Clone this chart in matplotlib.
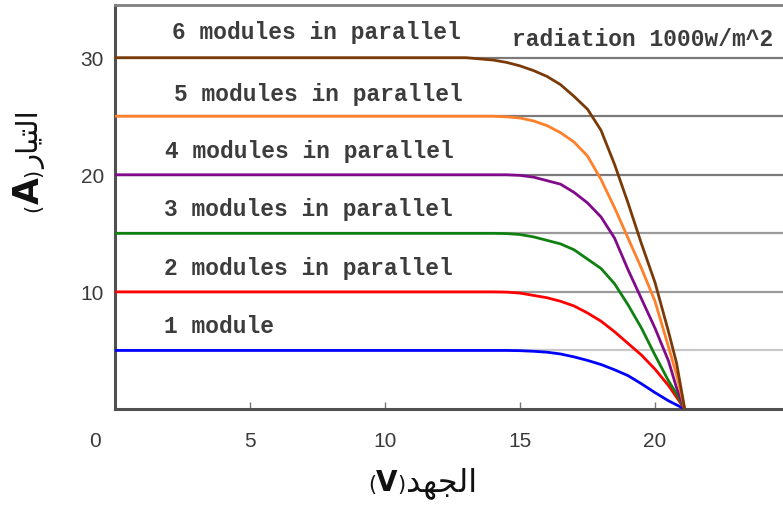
import matplotlib
matplotlib.use("Agg")
import matplotlib.pyplot as plt
from matplotlib.transforms import IdentityTransform, ScaledTranslation

# ---------- 1. I-V data (1000 W/m^2), one curve per number of parallel modules ----------
voltage = [0, 13, 14, 14.5, 15, 15.5, 16, 16.5, 17, 17.5, 18, 18.5, 19, 19.5, 20, 20.5, 20.8, 21.1]
i_1 = [5.0, 5.0, 5.0, 5.0, 4.98, 4.93, 4.85, 4.7, 4.45, 4.15, 3.8, 3.35, 2.85, 2.15, 1.4, 0.7, 0.35, 0]
i_2 = [10.0, 10.0, 10.0, 9.98, 9.9, 9.7, 9.5, 9.2, 8.8, 8.2, 7.5, 6.6, 5.6, 4.6, 3.4, 2.0, 1.0, 0]
i_3 = [15.0, 15.0, 15.0, 14.98, 14.9, 14.7, 14.4, 14.1, 13.6, 12.8, 12.0, 10.7, 8.9, 6.9, 4.6, 2.4, 1.3, 0]
i_4 = [20.0, 20.0, 20.0, 20.0, 19.95, 19.8, 19.5, 19.2, 18.5, 17.6, 16.4, 14.6, 11.9, 9.4, 6.9, 4.1, 1.8, 0]
i_5 = [25.0, 25.0, 25.0, 24.95, 24.85, 24.6, 24.2, 23.6, 22.8, 21.6, 19.6, 17.2, 14.6, 12.0, 9.2, 5.3, 2.9, 0]
i_6 = [30.0, 30.0, 29.8, 29.6, 29.3, 28.9, 28.4, 27.7, 26.7, 25.6, 23.8, 20.9, 17.6, 14.1, 10.8, 6.6, 3.9, 0]
currents = [i_1, i_2, i_3, i_4, i_5, i_6]
curve_labels = ["1 module", "2 modules in parallel", "3 modules in parallel",
                "4 modules in parallel", "5 modules in parallel", "6 modules in parallel"]
x_ticks = [0, 5, 10, 15, 20]
y_ticks = [10, 20, 30]
radiation_note = "radiation 1000w/m^2"

colors = ["#0000ff", "#ff0000", "#108010", "#800a8a", "#ff7f2a", "#7a3a08"]
# label anchors (volts, amps) - left edge / vertical centre of each text
label_pos = [(1.8, 7.1), (1.8, 12.1), (1.8, 17.1), (1.85, 22.1), (2.2, 26.9), (2.1, 32.2)]

# ---------- 2. figure / axes ----------
W, H = 783, 506
fig = plt.figure(figsize=(W / 100, H / 100), dpi=100)
ax = fig.add_axes([115 / W, 1 - 410 / H, 668 / W, 404 / H])
ax.set_xlim(0, 24.74)
ax.set_ylim(0, 34.5)

# horizontal grid every 5 A
for lvl in [5, 10, 15, 20, 25, 30]:
    c = "#c8c8c8" if lvl == 5 else ("#9a9a9a" if lvl in (10, 15) else "#7a7a7a")
    ax.axhline(lvl, color=c, lw=1.6, zorder=1)

for cur, col in zip(currents, colors):
    ax.plot(voltage, cur, color=col, lw=2.0, zorder=3, solid_capstyle="butt",
            solid_joinstyle="round")

mono = dict(family="Liberation Mono", fontweight="bold", fontsize=16.5, color="#3c3c3c", zorder=5)
for txt, (vx, vy) in zip(curve_labels, label_pos):
    ax.text(vx, vy, txt, ha="left", va="center", **mono)
ax.text(14.7, 31.6, radiation_note, ha="left", va="center", **mono)

# spines
for s in ["left", "bottom"]:
    ax.spines[s].set_color("#505050")
    ax.spines[s].set_linewidth(2.2)
ax.spines["top"].set_color("#808080")
ax.spines["top"].set_linewidth(2.0)
ax.spines["right"].set_visible(False)

ax.set_xticks(x_ticks)
ax.set_xticklabels([str(t) for t in x_ticks])
ax.set_yticks(y_ticks)
ax.set_yticklabels([str(t) for t in y_ticks])
ax.tick_params(axis="x", direction="in", length=5, width=1, color="#777777",
               pad=16, labelsize=15, labelcolor="#3a3a3a")
ax.tick_params(axis="y", direction="in", length=0, pad=8, labelsize=15, labelcolor="#3a3a3a")
for lab in ax.get_xticklabels() + ax.get_yticklabels():
    lab.set_family("Liberation Sans")
# the "0" sits a bit left of the origin
ax.get_xticklabels()[0].set_transform(
    ax.get_xticklabels()[0].get_transform() + ScaledTranslation(-0.2, 0, fig.dpi_scale_trans))

# ---------- 3. Arabic axis titles (pre-shaped glyphs, visual order) ----------
ar_voltage = "\ufeaa\ufeec\ufea0\ufedf\ufe8d"          # الجهد
ar_current = "\ufead\ufe8e\ufef4\ufe98\ufedf\ufe8d"    # التيار

renderer = fig.canvas.get_renderer()


def put_row(pieces, x, y, rotation):
    # pixel coords, origin bottom-left; pieces = (text, size, weight)
    for s, size, weight in pieces:
        t = fig.text(x, y, s, transform=IdentityTransform(), rotation=rotation,
                     rotation_mode="anchor", ha="left", va="baseline",
                     fontsize=size, fontweight=weight, color="#111111",
                     family=["DejaVu Sans"])
        bb = t.get_window_extent(renderer)
        if rotation == 90:
            y += bb.height
        else:
            x += bb.width


put_row([("(", 15, "normal"), ("V", 20, "bold"), (")", 15, "normal"), (ar_voltage, 23, "normal")],
        368, H - 491, 0)
put_row([("(", 15, "normal"), ("A", 25, "bold"), (")", 15, "normal"), (ar_current, 21, "normal")],
        39, H - 212, 90)

fig.savefig("out.png", dpi=100)
